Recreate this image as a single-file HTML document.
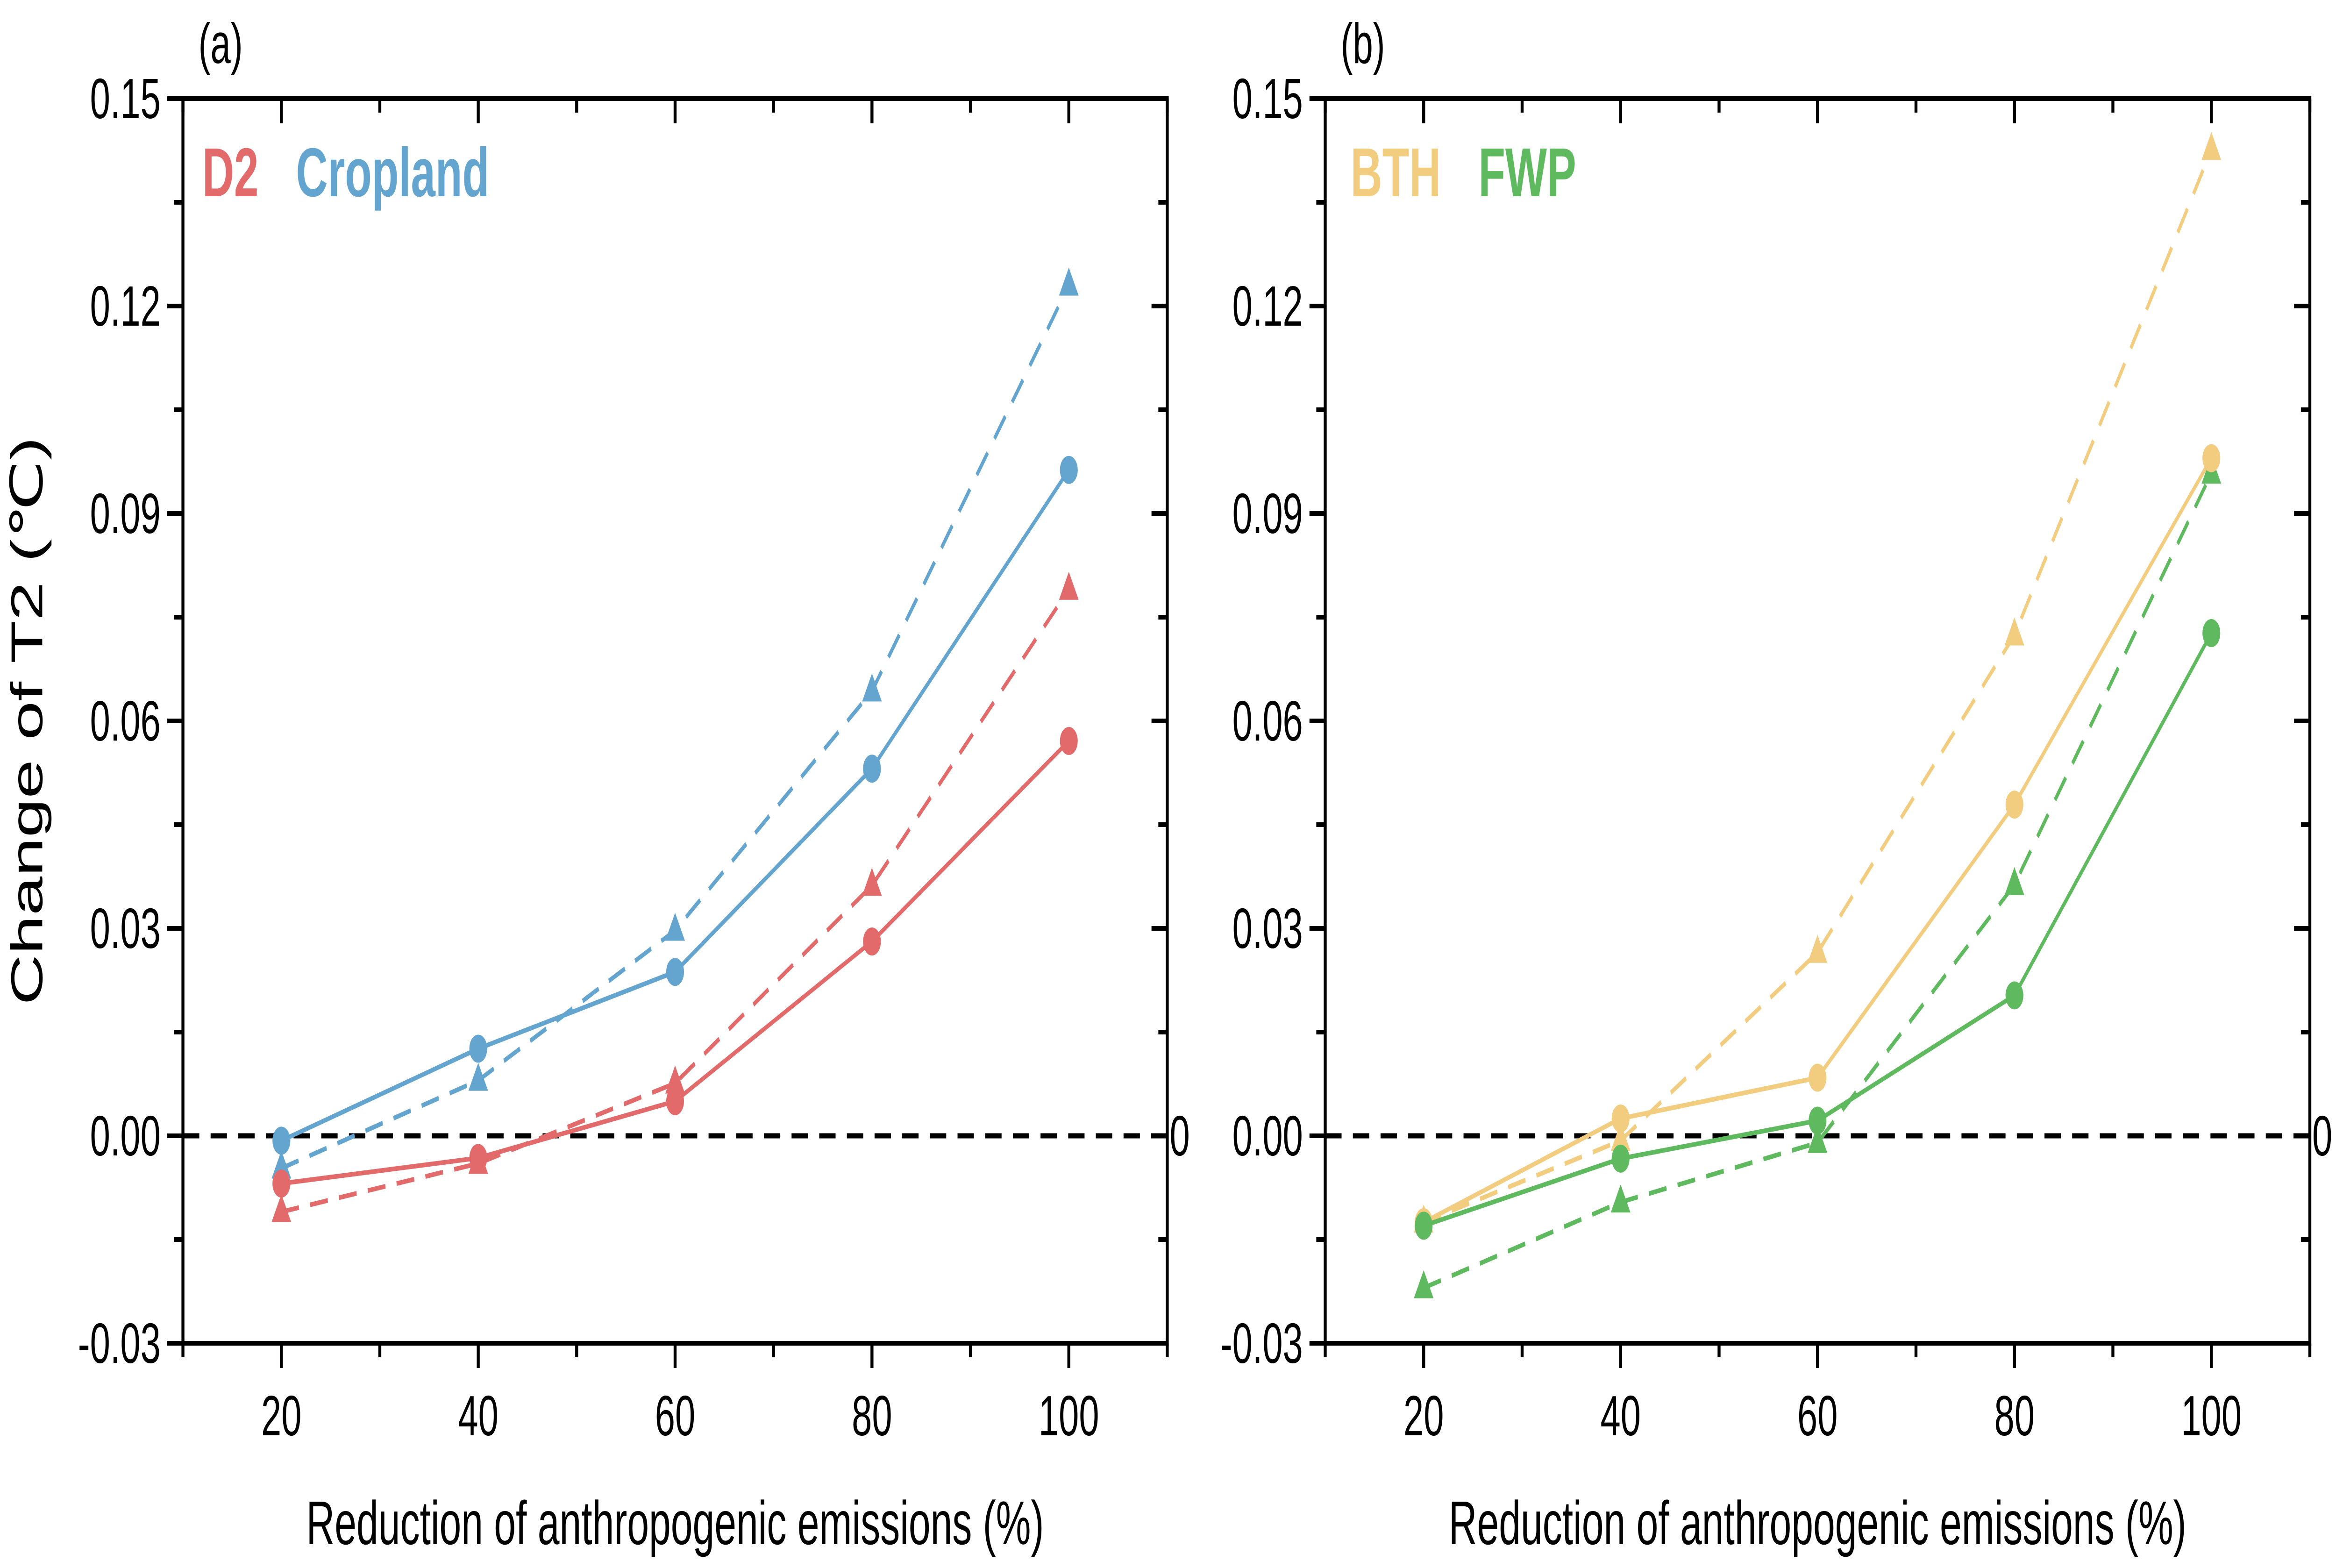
<!DOCTYPE html>
<html><head><meta charset="utf-8"><style>
html,body{margin:0;padding:0;background:#fff;width:100%;height:100%;overflow:hidden;}
svg{display:block;font-family:"Liberation Sans",Arial,sans-serif;overflow:hidden;width:100vw;height:100vh;}
</style></head>
<body>
<svg id="chart" xmlns="http://www.w3.org/2000/svg" viewBox="0 0 7853 3356" preserveAspectRatio="none"></svg>
<script>
const categories = [20, 40, 60, 80, 100];
const yTicks = [-0.03, 0, 0.03, 0.06, 0.09, 0.12, 0.15];
const yTickLabels = ["-0.03", "0.00", "0.03", "0.06", "0.09", "0.12", "0.15"];
const xTickLabels = ["20", "40", "60", "80", "100"];
const d2Solid = [-0.0069, -0.0032, 0.005, 0.0281, 0.0571];
const d2Dashed = [-0.011, -0.004, 0.0076, 0.0362, 0.079];
const cropSolid = [-0.0007, 0.0126, 0.0237, 0.0531, 0.0963];
const cropDashed = [-0.0047, 0.008, 0.0297, 0.0643, 0.123];
const bthSolid = [-0.0125, 0.0025, 0.0084, 0.0479, 0.098];
const bthDashed = [-0.0125, -0.0007, 0.0265, 0.0724, 0.1426];
const fwpSolid = [-0.013, -0.0033, 0.0022, 0.0203, 0.0727];
const fwpDashed = [-0.022, -0.0096, -0.001, 0.0363, 0.0958];

const NS = "http://www.w3.org/2000/svg";
const svg = document.getElementById('chart');
function mk(tag, attrs, parent) {
  const e = document.createElementNS(NS, tag);
  for (const k in attrs) e.setAttribute(k, attrs[k]);
  (parent || svg).appendChild(e);
  return e;
}
const TOP = 211, BOT = 2875, YMIN = -0.03, YMAX = 0.15, XMIN = 10, XMAX = 110;

function panel(p) {
  const g = mk('g', {});
  
  
  const sx = v => p.L + (v - XMIN) / (XMAX - XMIN) * (p.R - p.L);
  const sy = v => BOT - (v - YMIN) / (YMAX - YMIN) * (BOT - TOP);
  for (let i = 0; i <= 12; i++) {
    const v = YMIN + i * 0.015, y = sy(v), major = i % 2 === 0;
    const t = mk('line', {x1: p.L - (major ? 53 : 30), x2: p.L, y1: y, y2: y, stroke: '#000', 'stroke-width': 10}, g);
    
    
    const t2 = mk('line', {x1: p.R - (major ? 53 : 30), x2: p.R, y1: y, y2: y, stroke: '#000', 'stroke-width': 10}, g);
    
    
  }
  for (let v = 10; v <= 110; v += 10) {
    const x = sx(v), major = (v % 20 === 0);
    const t = mk('line', {x1: x, x2: x, y1: BOT, y2: BOT + (major ? 53 : 30), stroke: '#000', 'stroke-width': 10}, g);
    
    
    const t2 = mk('line', {x1: x, x2: x, y1: TOP, y2: TOP + (major ? 53 : 30), stroke: '#000', 'stroke-width': 10}, g);
    
    
  }
  yTicks.forEach((v, i) => {
    const t = mk('text', {x: p.L - 75, y: sy(v) + 42, 'text-anchor': 'end', 'font-size': 122}, g);
    t.textContent = yTickLabels[i];
    
    
  });
  categories.forEach((v, i) => {
    const t = mk('text', {x: sx(v), y: 3072, 'text-anchor': 'middle', 'font-size': 122}, g);
    t.textContent = xTickLabels[i];
    
    
  });
  const xl = mk('text', {x: (p.L + p.R) / 2, y: 3305, 'text-anchor': 'middle', 'font-size': 132}, g);
  xl.textContent = 'Reduction of anthropogenic emissions (%)';
  
  
  const z = mk('line', {x1: p.L, x2: p.R, y1: sy(0), y2: sy(0), stroke: '#000', 'stroke-width': 11, 'stroke-dasharray': '55 38'}, g);
  
  
  const zl = mk('text', {x: Math.min(p.R + 8, 7848 - 68), y: sy(0) + 42, 'font-size': 122}, g);
  zl.textContent = '0';
  
  
  p.series.forEach(s => {
    const pts = categories.map((c, i) => sx(c) + ',' + sy(s.vals[i])).join(' ');
    const attrs = {points: pts, fill: 'none', stroke: s.color, 'stroke-width': 10};
    if (s.dashed) attrs['stroke-dasharray'] = '60 38';
    const l = mk('polyline', attrs, g);
    
    
    categories.forEach((c, i) => {
      const x = sx(c), y = sy(s.vals[i]);
      let m;
      if (s.dashed) m = mk('polygon', {points: `${x},${y - 38} ${x - 33},${y + 22} ${x + 33},${y + 22}`, fill: s.color}, g);
      else m = mk('circle', {cx: x, cy: y, r: 30, fill: s.color}, g);
      
      
    });
  });
  const f = mk('rect', {x: p.L, y: TOP, width: p.R - p.L, height: BOT - TOP, fill: 'none', stroke: '#000', 'stroke-width': 10}, g);
  
  
  const pl = mk('text', {x: p.L + 52, y: 135, 'font-size': 122}, g);
  pl.textContent = p.label;
  
  
  p.legend.forEach(lg => {
    const t = mk('text', {x: lg.x, y: 420, 'font-size': 148, 'font-weight': 'bold', fill: lg.color}, g);
    t.textContent = lg.text;
    
    
  });
}
const RED = '#e26a6a', BLUE = '#64a5d0', YEL = '#f2cd7f', GRN = '#5fb95f';
panel({name: 'panel-a', L: 615, R: 3924, label: '(a)',
  legend: [{x: 680, text: 'D2', color: RED}, {x: 995, text: 'Cropland', color: BLUE}],
  series: [
    {name: 'cropland-dashed', vals: cropDashed, color: BLUE, dashed: true},
    {name: 'd2-dashed', vals: d2Dashed, color: RED, dashed: true},
    {name: 'cropland-solid', vals: cropSolid, color: BLUE, dashed: false},
    {name: 'd2-solid', vals: d2Solid, color: RED, dashed: false}]});
panel({name: 'panel-b', L: 4455, R: 7765, label: '(b)',
  legend: [{x: 4540, text: 'BTH', color: YEL}, {x: 4970, text: 'FWP', color: GRN}],
  series: [
    {name: 'bth-dashed', vals: bthDashed, color: YEL, dashed: true},
    {name: 'fwp-dashed', vals: fwpDashed, color: GRN, dashed: true},
    {name: 'bth-solid', vals: bthSolid, color: YEL, dashed: false},
    {name: 'fwp-solid', vals: fwpSolid, color: GRN, dashed: false}]});
const yt = mk('text', {x: 0, y: 0, 'text-anchor': 'middle', 'font-size': 150, transform: 'translate(142,1543) rotate(-90)'});
yt.textContent = 'Change of T2 (℃)';


</script>
</body></html>
